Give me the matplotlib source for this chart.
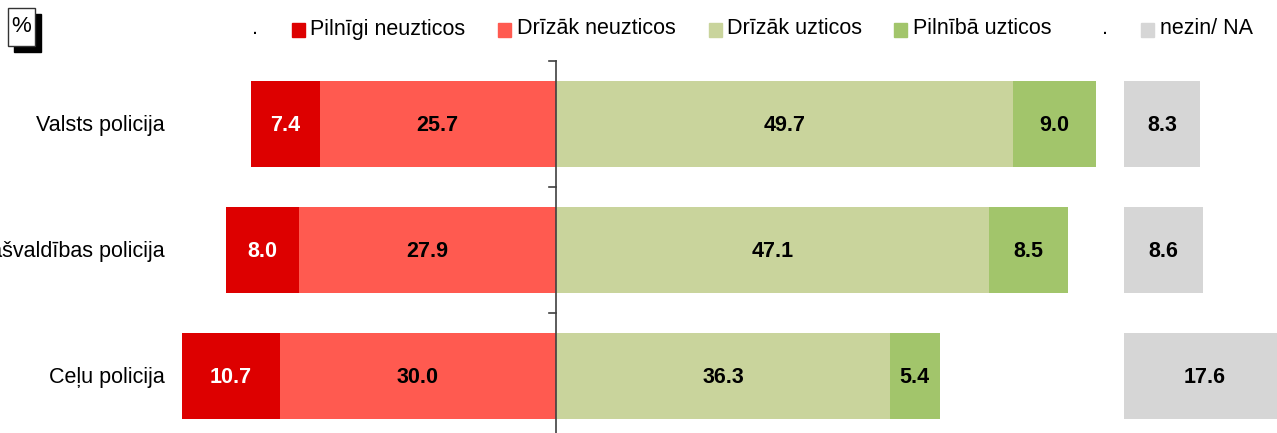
import matplotlib
matplotlib.use("Agg")
import matplotlib.pyplot as plt
from matplotlib.patches import Rectangle

plt.rcParams['font.family'] = ['Liberation Sans', 'DejaVu Sans']

categories = ["Valsts policija", "Pašvaldības policija", "Ceļu policija"]
pilnigi_neuzticos = [7.4, 8.0, 10.7]
drizak_neuzticos = [25.7, 27.9, 30.0]
drizak_uzticos = [49.7, 47.1, 36.3]
pilniba_uzticos = [9.0, 8.5, 5.4]
nezin_na = [8.3, 8.6, 17.6]
legend_labels = ["Pilnīgi neuzticos", "Drīzāk neuzticos", "Drīzāk uzticos", "Pilnībā uzticos", "nezin/ NA"]

colors = ["#DD0000", "#FF5A50", "#C9D49C", "#A2C56B", "#D6D6D6"]

W, H = 1277, 433
fig = plt.figure(figsize=(W / 100, H / 100), dpi=100)
ax = fig.add_axes([0, 0, 1, 1])
ppu = 9.2
cx = 556
ax.set_xlim(-cx / ppu, (W - cx) / ppu)
row_h = 126
ax.set_ylim((H - 124) / row_h, -124 / row_h)
ax.axis('off')

y = list(range(len(categories)))
bh = 86 / row_h
na_start = (1124 - cx) / ppu

left1 = [-(a + b) for a, b in zip(pilnigi_neuzticos, drizak_neuzticos)]
left2 = [-b for b in drizak_neuzticos]
ax.barh(y, pilnigi_neuzticos, left=left1, height=bh, color=colors[0], zorder=2)
ax.barh(y, drizak_neuzticos, left=left2, height=bh, color=colors[1], zorder=2)
ax.barh(y, drizak_uzticos, left=0, height=bh, color=colors[2], zorder=2)
ax.barh(y, pilniba_uzticos, left=drizak_uzticos, height=bh, color=colors[3], zorder=2)
ax.barh(y, nezin_na, left=na_start, height=bh, color=colors[4], zorder=2)

vfs = 15.5
cfs = 15.5
lfs = 15.5
for i in y:
    segs = [
        (left1[i], pilnigi_neuzticos[i], 'white'),
        (left2[i], drizak_neuzticos[i], 'black'),
        (0, drizak_uzticos[i], 'black'),
        (drizak_uzticos[i], pilniba_uzticos[i], 'black'),
        (na_start, nezin_na[i], 'black'),
    ]
    for l, w, c in segs:
        ax.text(l + w / 2, i + 0.012, f"{w:.1f}", ha='center', va='center',
                fontsize=vfs, fontweight='bold', color=c, zorder=3)
    ax.text((165 - cx) / ppu, i + 0.012, categories[i], ha='right', va='center',
            fontsize=cfs, color='black')

# center axis with ticks
ax.plot([0, 0], [-0.5, 2.6], color='#404040', lw=1.2, zorder=4)
tick_len = 7 / ppu
for t in [-0.5, 0.5, 1.5]:
    ax.plot([-tick_len, 0], [t, t], color='#404040', lw=1.2, zorder=4)

# legend (manual, in pixel coords)
def px(x, yy):
    return x / W, 1 - yy / H

ty = 29
fig.text(*px(255, ty), ".", ha='center', va='center', fontsize=lfs)
fig.text(*px(1105, ty), ".", ha='center', va='center', fontsize=lfs)
sq = [(292, 310), (498, 517), (709, 727), (894, 913), (1141, 1160)]
for (sx, tx), c, lab in zip(sq, colors, legend_labels):
    fig.patches.append(Rectangle(px(sx, 37), 13 / W, 14 / H, transform=fig.transFigure,
                                 color=c, figure=fig))
    fig.text(*px(tx, ty), lab, ha='left', va='center', fontsize=lfs)

# percent box
fig.patches.append(Rectangle(px(14, 52), 27 / W, 38 / H, transform=fig.transFigure,
                             facecolor='black', edgecolor='black', figure=fig))
fig.patches.append(Rectangle(px(8, 46), 27 / W, 38 / H, transform=fig.transFigure,
                             facecolor='white', edgecolor='#333333', lw=1, figure=fig))
fig.text(*px(21.5, 26), "%", ha='center', va='center', fontsize=16)

fig.savefig("out.png", dpi=100)
